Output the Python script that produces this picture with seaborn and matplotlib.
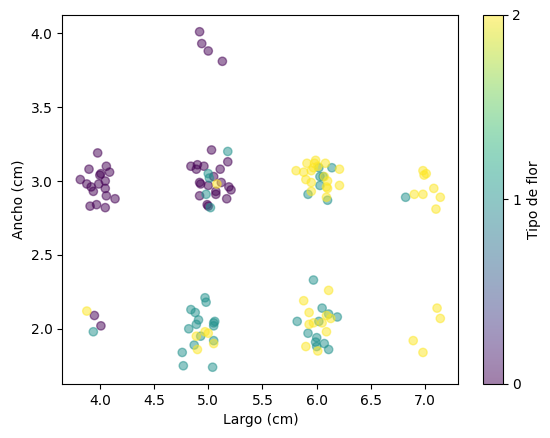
import numpy as np
import pandas as pd
import matplotlib
matplotlib.use("Agg")
import matplotlib.pyplot as plt
import seaborn as sns
from matplotlib.colors import ListedColormap, Normalize
from matplotlib.cm import ScalarMappable

# Largo, ancho y tipo de flor
largo_0 = [3.82, 3.90, 3.98, 3.88, 3.92, 3.94, 4.00, 4.01, 4.05, 4.06, 4.09, 3.99,
           4.05, 4.06, 4.14, 3.91, 3.97, 4.05,
           4.92, 4.94, 5.00, 5.13,
           4.84, 4.89, 4.90, 4.96, 5.03, 5.11, 5.18, 4.92, 4.93, 5.00, 5.05, 5.12,
           5.07, 5.07, 5.19, 5.21, 4.92, 4.99, 5.00, 5.17,
           3.95, 4.01]
ancho_0 = [3.01, 3.08, 3.19, 2.98, 2.96, 2.93, 3.04, 3.05, 3.00, 3.10, 3.06, 2.98,
           2.95, 2.90, 2.88, 2.83, 2.84, 2.82,
           4.01, 3.93, 3.88, 3.81,
           3.10, 3.08, 3.11, 3.10, 3.21, 3.08, 3.13, 2.99, 2.98, 2.97, 3.03, 2.99,
           2.93, 2.91, 2.96, 2.94, 2.90, 2.84, 2.83, 2.88,
           2.09, 2.02]

largo_1 = [5.18, 5.00, 5.01, 4.98, 5.02,
           6.02, 6.14, 6.03, 6.03, 5.92, 6.10, 6.06,
           6.82,
           3.94,
           4.97, 4.98, 4.84, 4.88, 4.91, 4.89, 4.82, 5.05, 5.06, 5.05, 4.93, 5.05,
           4.87, 4.76, 4.77, 5.04,
           5.97, 6.05, 5.82, 6.11, 6.19, 6.02, 5.92, 6.00, 5.99, 6.07, 6.00, 6.11]
ancho_1 = [3.20, 3.05, 3.02, 2.91, 2.82,
           3.09, 3.09, 3.03, 2.97, 2.91, 2.87, 3.03,
           2.89,
           1.98,
           2.21, 2.18, 2.13, 2.11, 2.06, 2.03, 2.00, 2.04, 2.05, 2.02, 1.95, 1.92,
           1.89, 1.84, 1.75, 1.74,
           2.33, 2.14, 2.05, 2.10, 2.08, 2.05, 1.97, 1.94, 1.91, 1.90, 1.88, 1.86]

largo_2 = [5.08,
           5.81, 5.88, 5.91, 5.90, 5.95, 5.95, 5.95, 5.98, 5.99, 5.97, 6.01, 6.08,
           6.21, 6.21, 6.07, 6.10, 6.09, 6.10, 6.09,
           6.90, 6.98, 6.98, 6.99, 7.01, 7.08, 7.14, 7.10,
           3.88,
           4.89, 4.97, 5.00, 5.05, 4.90,
           6.11, 5.88, 5.93, 6.09, 6.13, 5.97, 5.93, 6.05, 6.09, 5.90, 6.01,
           7.11, 7.14, 6.89, 6.98]
ancho_2 = [2.98,
           3.07, 3.06, 3.12, 3.01, 2.99, 2.93, 3.07, 3.12, 3.14, 3.09, 3.10, 3.12,
           3.08, 2.97, 3.03, 3.00, 2.96, 2.95, 2.89,
           2.91, 2.91, 3.07, 3.04, 3.05, 2.95, 2.89, 2.81,
           2.12,
           1.95, 1.98, 1.97, 1.90, 1.86,
           2.26, 2.19, 2.11, 2.09, 2.07, 2.04, 2.03, 2.04, 1.98, 1.88, 1.85,
           2.14, 2.07, 1.92, 1.84]

df = pd.DataFrame({
    "largo": largo_0 + largo_1 + largo_2,
    "ancho": ancho_0 + ancho_1 + ancho_2,
    "tipo": [0] * len(largo_0) + [1] * len(largo_1) + [2] * len(largo_2),
})

fig = plt.figure(figsize=(5.5, 4.38), dpi=100)
ax = fig.add_axes([0.1133, 0.1233, 0.72, 0.8425])
cax = fig.add_axes([0.8788, 0.1233, 0.0353, 0.8425])

sns.scatterplot(data=df, x="largo", y="ancho", hue="tipo", palette="viridis",
                hue_norm=(0, 2), alpha=0.5, s=36, edgecolor="face",
                linewidth=1.0, legend=False, ax=ax)
ax.set_xlabel("Largo (cm)")
ax.set_ylabel("Ancho (cm)")

# Colorbar con la misma transparencia que los puntos
colores = plt.get_cmap("viridis")(np.linspace(0, 1, 256))
colores[:, 3] = 0.5
sm = ScalarMappable(norm=Normalize(0, 2), cmap=ListedColormap(colores))
cb = fig.colorbar(sm, cax=cax, ticks=[0, 1, 2])
cb.set_label("Tipo de flor")

fig.savefig("out.png", dpi=100)
